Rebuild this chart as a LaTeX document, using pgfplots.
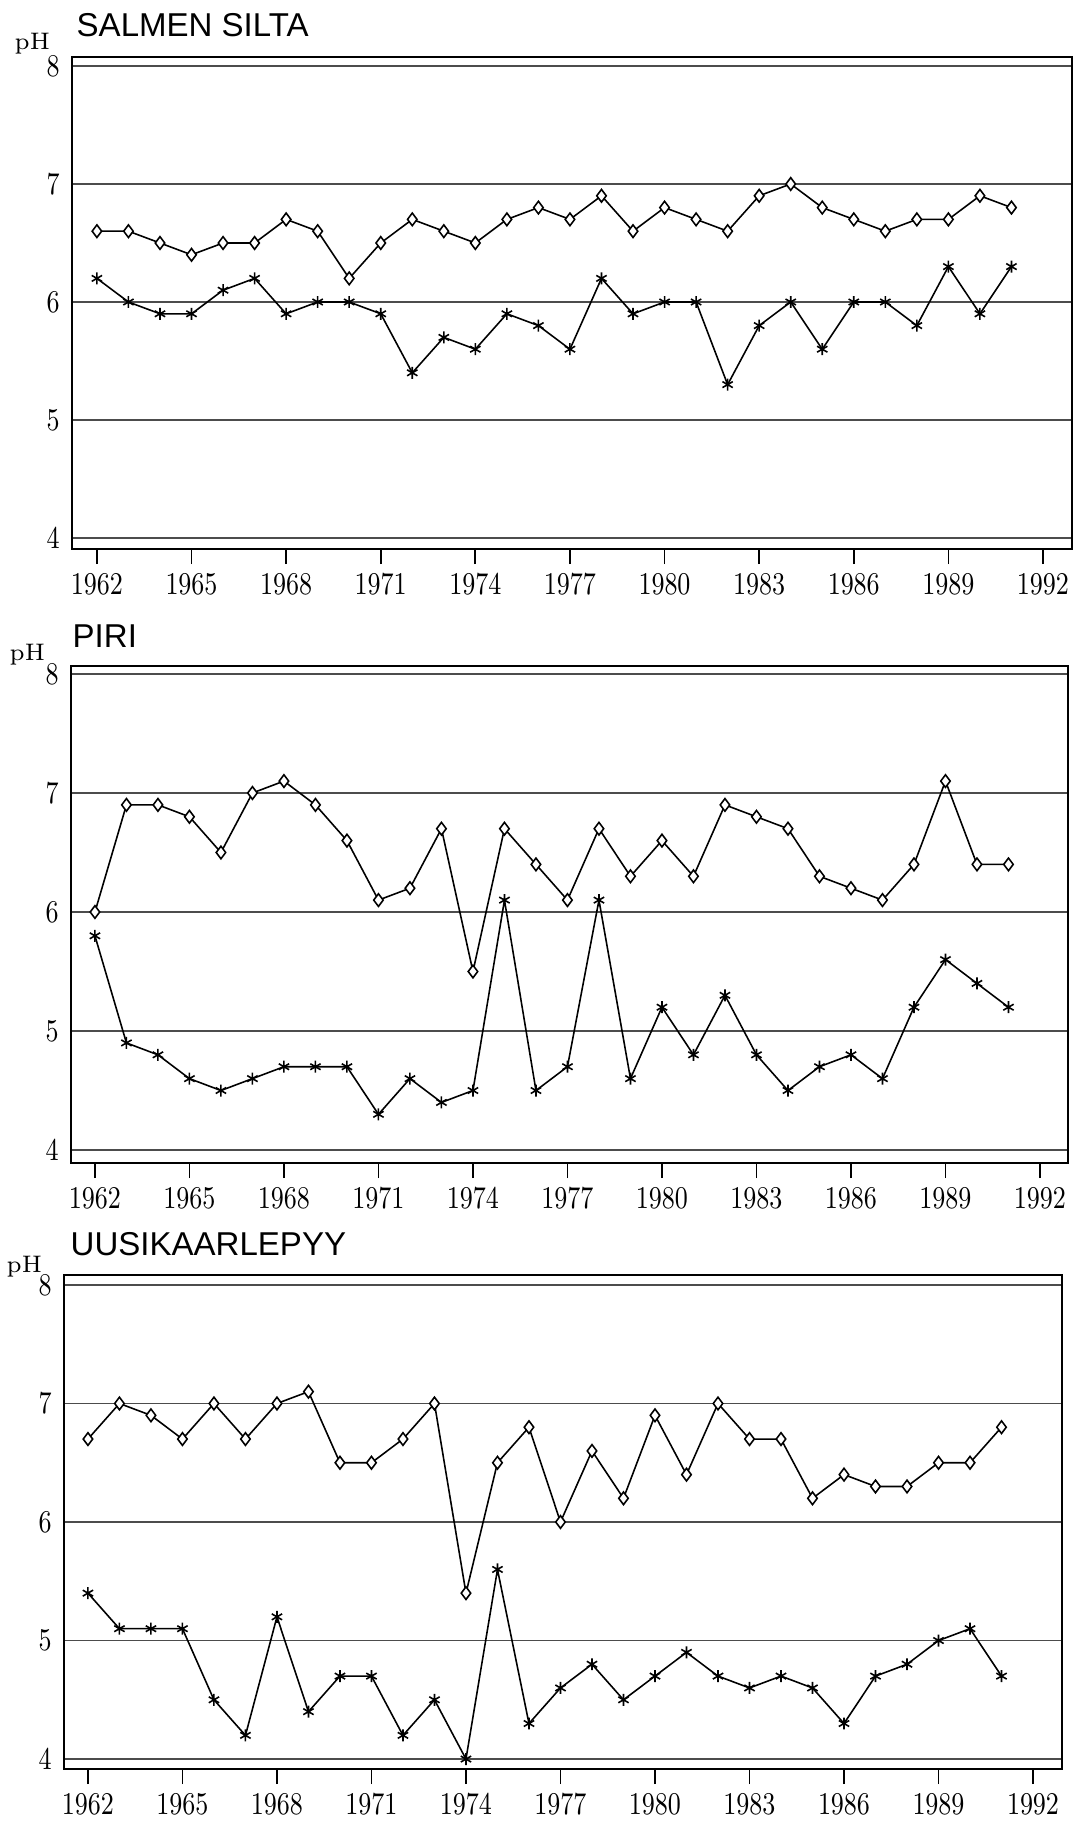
\documentclass[border=0pt]{standalone}
\usepackage{fontspec}
\usepackage{graphicx}
\usepackage{pgfplots}
\usepackage{pgfplotstable}
\pgfplotsset{compat=1.18}
\newfontfamily\titlefont{Liberation Sans}

% year, upper series (diamonds), lower series (asterisks)
\pgfplotstableread{
year up low
1962 6.6 6.2
1963 6.6 6.0
1964 6.5 5.9
1965 6.4 5.9
1966 6.5 6.1
1967 6.5 6.2
1968 6.7 5.9
1969 6.6 6.0
1970 6.2 6.0
1971 6.5 5.9
1972 6.7 5.4
1973 6.6 5.7
1974 6.5 5.6
1975 6.7 5.9
1976 6.8 5.8
1977 6.7 5.6
1978 6.9 6.2
1979 6.6 5.9
1980 6.8 6.0
1981 6.7 6.0
1982 6.6 5.3
1983 6.9 5.8
1984 7.0 6.0
1985 6.8 5.6
1986 6.7 6.0
1987 6.6 6.0
1988 6.7 5.8
1989 6.7 6.3
1990 6.9 5.9
1991 6.8 6.3
}\salmen

\pgfplotstableread{
year up low
1962 6.0 5.8
1963 6.9 4.9
1964 6.9 4.8
1965 6.8 4.6
1966 6.5 4.5
1967 7.0 4.6
1968 7.1 4.7
1969 6.9 4.7
1970 6.6 4.7
1971 6.1 4.3
1972 6.2 4.6
1973 6.7 4.4
1974 5.5 4.5
1975 6.7 6.1
1976 6.4 4.5
1977 6.1 4.7
1978 6.7 6.1
1979 6.3 4.6
1980 6.6 5.2
1981 6.3 4.8
1982 6.9 5.3
1983 6.8 4.8
1984 6.7 4.5
1985 6.3 4.7
1986 6.2 4.8
1987 6.1 4.6
1988 6.4 5.2
1989 7.1 5.6
1990 6.4 5.4
1991 6.4 5.2
}\piri

\pgfplotstableread{
year up low
1962 6.7 5.4
1963 7.0 5.1
1964 6.9 5.1
1965 6.7 5.1
1966 7.0 4.5
1967 6.7 4.2
1968 7.0 5.2
1969 7.1 4.4
1970 6.5 4.7
1971 6.5 4.7
1972 6.7 4.2
1973 7.0 4.5
1974 5.4 4.0
1975 6.5 5.6
1976 6.8 4.3
1977 6.0 4.6
1978 6.6 4.8
1979 6.2 4.5
1980 6.9 4.7
1981 6.4 4.9
1982 7.0 4.7
1983 6.7 4.6
1984 6.7 4.7
1985 6.2 4.6
1986 6.4 4.3
1987 6.3 4.7
1988 6.3 4.8
1989 6.5 5.0
1990 6.5 5.1
1991 6.8 4.7
}\uusi

\pgfplotsset{
  phpanel/.style={
    scale only axis, anchor=north west,
    xtick={1962,1965,...,1992}, minor x tick num=2,
    ytick={4,5,6,7,8}, ymajorgrids,
    tick pos=left, tick align=outside,
    major tick length=0.15cm, minor tick length=0.06cm,
    y tick style={draw=none},
    x tick style={black, line width=0.5pt},
    grid style={black!70, line width=0.5pt},
    axis line style={line width=0.8pt},
    tick label style={font=\fontsize{8.8}{10}\selectfont},
    xticklabel={\scalebox{0.8}[1]{\pgfmathprintnumber[fixed,precision=0,1000 sep={}]{\tick}}},
    yticklabel={\scalebox{0.8}[1]{\pgfmathprintnumber{\tick}}},
    xticklabel style={inner sep=1pt, yshift=-0.06cm},
    yticklabel style={xshift=0.15cm},
  },
  upper/.style={black, line width=0.45pt, mark=diamond*, mark size=1.8pt,
    mark options={fill=white, solid}},
  lower/.style={black, line width=0.45pt, mark=asterisk, mark size=1.7pt,
    mark options={solid}},
}

\begin{document}
\begin{tikzpicture}
% SALMEN SILTA
\node[anchor=base west, inner sep=0, font=\titlefont\fontsize{9.4}{11}\selectfont] at (0.76,-0.37) {SALMEN SILTA};
\node[anchor=base west, inner sep=0, font=\fontsize{6.8}{8}\selectfont] at (0.14,-0.50) {pH};
\begin{axis}[phpanel, at={(0.72cm,-0.57cm)}, width=10.00cm, height=4.92cm,
  xmin=1961.21, xmax=1992.92, ymin=3.907, ymax=8.076]
\addplot[upper] table[x=year, y=up] {\salmen};
\addplot[lower] table[x=year, y=low] {\salmen};
\end{axis}
% PIRI
\node[anchor=base west, inner sep=0, font=\titlefont\fontsize{9.4}{11}\selectfont] at (0.72,-6.47) {PIRI};
\node[anchor=base west, inner sep=0, font=\fontsize{6.8}{8}\selectfont] at (0.09,-6.60) {pH};
\begin{axis}[phpanel, at={(0.71cm,-6.66cm)}, width=9.97cm, height=4.97cm,
  xmin=1961.24, xmax=1992.89, ymin=3.891, ymax=8.067]
\addplot[upper] table[x=year, y=up] {\piri};
\addplot[lower] table[x=year, y=low] {\piri};
\end{axis}
% UUSIKAARLEPYY
\node[anchor=base west, inner sep=0, font=\titlefont\fontsize{9.4}{11}\selectfont] at (0.70,-12.55) {UUSIKAARLEPYY};
\node[anchor=base west, inner sep=0, font=\fontsize{6.8}{8}\selectfont] at (0.06,-12.72) {pH};
\begin{axis}[phpanel, at={(0.64cm,-12.75cm)}, width=9.98cm, height=4.94cm,
  xmin=1961.24, xmax=1992.92, ymin=3.916, ymax=8.084]
\addplot[upper] table[x=year, y=up] {\uusi};
\addplot[lower] table[x=year, y=low] {\uusi};
\end{axis}
\path (0,0) rectangle (10.82,-18.25);
\end{tikzpicture}
\end{document}
